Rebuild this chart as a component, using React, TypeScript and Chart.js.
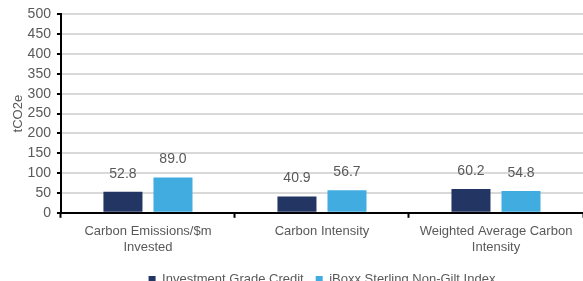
import React, { useEffect, useRef } from "react";
import { Chart, registerables } from "chart.js";

Chart.register(...registerables);

const categories: (string | string[])[] = [
  ["Carbon Emissions/$m", "Invested"],
  "Carbon Intensity",
  ["Weighted Average Carbon", "Intensity"],
];
const seriesNames = ["Investment Grade Credit", "iBoxx Sterling Non-Gilt Index"];
const investmentGrade = [52.8, 40.9, 60.2];
const iboxx = [89.0, 56.7, 54.8];
const colors = ["#233563", "#40ace0"];

const FONT = "'Liberation Sans', Arial, sans-serif";
const TEXT = "#595959";

const valueLabels = {
  id: "valueLabels",
  afterDatasetsDraw(chart: any) {
    const ctx = chart.ctx;
    ctx.save();
    ctx.font = `14px ${FONT}`;
    ctx.fillStyle = TEXT;
    ctx.textAlign = "center";
    ctx.textBaseline = "bottom";
    chart.data.datasets.forEach((ds: any, i: number) => {
      const meta = chart.getDatasetMeta(i);
      meta.data.forEach((bar: any, j: number) => {
        ctx.fillText(Number(ds.data[j]).toFixed(1), bar.x, bar.y - 11);
      });
    });
    ctx.restore();
  },
};

// centre the legend under the plot area rather than the whole canvas
const legendShift = {
  id: "legendShift",
  afterLayout(chart: any) {
    const lg = chart.legend;
    if (lg) {
      const shift = chart.chartArea.left + chart.chartArea.right - (lg.left + lg.right);
      lg.left += shift;
    }
  },
};

export default function App() {
  const ref = useRef<HTMLCanvasElement>(null);
  useEffect(() => {
    document.body.style.margin = "0";
    const chart = new Chart(ref.current!, {
      type: "bar",
      data: {
        labels: categories,
        datasets: [
          { label: seriesNames[0], data: investmentGrade, backgroundColor: colors[0] },
          { label: seriesNames[1], data: iboxx, backgroundColor: colors[1] },
        ],
      },
      options: {
        animation: false,
        responsive: true,
        maintainAspectRatio: false,
        layout: { padding: { top: 9, left: 10, right: 0, bottom: -15 } },
        datasets: { bar: { categoryPercentage: 0.575, barPercentage: 0.78 } },
        plugins: {
          legend: {
            position: "bottom",
            labels: {
              boxWidth: 7,
              boxHeight: 7,
              padding: 12,
              color: TEXT,
              font: { family: FONT, size: 13 },
            },
          },
          tooltip: { enabled: false },
        },
        scales: {
          x: {
            grid: {
              offset: true,
              drawOnChartArea: false,
              drawTicks: true,
              tickLength: 5,
              tickColor: "#000",
              tickWidth: 2,
            },
            border: { color: "#000", width: 2 },
            ticks: { color: TEXT, font: { family: FONT, size: 13 }, padding: 6, maxRotation: 0 },
          },
          y: {
            min: 0,
            max: 500,
            ticks: {
              stepSize: 50,
              autoSkip: false,
              color: TEXT,
              font: { family: FONT, size: 14 },
              padding: 6,
            },
            grid: {
              color: (c: any) => (c.tick && c.tick.value === 0 ? "#000" : "#d9d9d9"),
              lineWidth: 2,
              tickLength: 4,
              tickColor: "#000",
              tickWidth: 2,
            },
            border: { color: "#000", width: 2 },
            title: {
              display: true,
              text: "tCO2e",
              color: TEXT,
              font: { family: FONT, size: 13 },
              padding: { top: 1, bottom: -5 },
            },
          },
        },
      },
      plugins: [valueLabels, legendShift],
    });
    return () => chart.destroy();
  }, []);
  return (
    <div style={{ position: "relative", width: 583, height: 281 }}>
      <canvas ref={ref} />
    </div>
  );
}
